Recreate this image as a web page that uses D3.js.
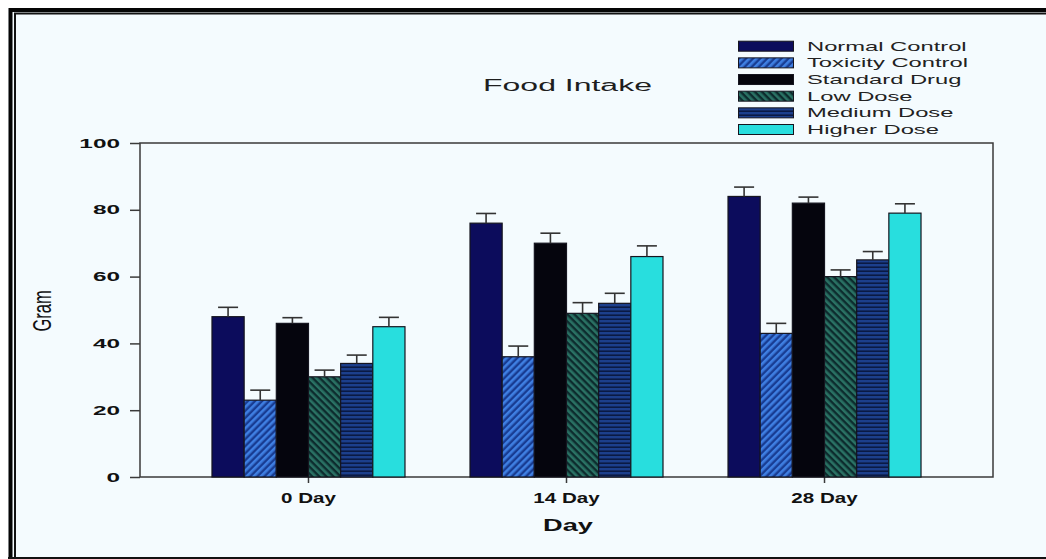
<!DOCTYPE html>
<html>
<head>
<meta charset="utf-8">
<script src="https://cdn.jsdelivr.net/npm/d3@7"></script>
<style>
  html, body { margin: 0; padding: 0; background: #ffffff; }
  svg { display: block; }
  text { font-family: "Liberation Sans", Arial, Helvetica, sans-serif; }
</style>
</head>
<body>
<svg id="chart" width="1046" height="559"></svg>
<script>
// Food intake (g) per group on day 0, 14 and 28, mean with upward error bar
const days = ["0 Day", "14 Day", "28 Day"];
const groups = ["Normal Control", "Toxicity Control", "Standard Drug", "Low Dose", "Medium Dose", "Higher Dose"];

const meanNormal   = [48, 76, 84];
const meanToxicity = [23, 36, 43];
const meanStandard = [46, 70, 82];
const meanLow      = [30, 49, 60];
const meanMedium   = [34, 52, 65];
const meanHigher   = [45, 66, 79];

const errNormal   = [2.8, 2.9, 2.8];
const errToxicity = [3.0, 3.2, 3.0];
const errStandard = [1.7, 3.0, 1.8];
const errLow      = [2.0, 3.2, 2.0];
const errMedium   = [2.5, 3.0, 2.5];
const errHigher   = [2.8, 3.2, 2.8];

const yTicks = [0, 20, 40, 60, 80, 100];

const means = [meanNormal, meanToxicity, meanStandard, meanLow, meanMedium, meanHigher];
const errs  = [errNormal, errToxicity, errStandard, errLow, errMedium, errHigher];
const fills = ["#0c0c5c", "url(#hatchTox)", "#05050d", "url(#hatchLow)", "url(#hatchMed)", "#28dede"];

const rows = [];
days.forEach((d, i) => groups.forEach((g, j) => rows.push({ day: d, group: g, value: means[j][i], err: errs[j][i], fill: fills[j] })));

const svg = d3.select("#chart");

// patterns for the hatched series
const defs = svg.append("defs");
const tox = defs.append("pattern").attr("id", "hatchTox").attr("patternUnits", "userSpaceOnUse")
  .attr("width", 5).attr("height", 5).attr("patternTransform", "rotate(45)");
tox.append("rect").attr("width", 5).attr("height", 5).attr("fill", "#183c92");
tox.append("rect").attr("width", 2.6).attr("height", 5).attr("fill", "#3f7fe2");

const low = defs.append("pattern").attr("id", "hatchLow").attr("patternUnits", "userSpaceOnUse")
  .attr("width", 5).attr("height", 5).attr("patternTransform", "rotate(-45)");
low.append("rect").attr("width", 5).attr("height", 5).attr("fill", "#0d2c2e");
low.append("rect").attr("width", 2.6).attr("height", 5).attr("fill", "#2a7264");

const med = defs.append("pattern").attr("id", "hatchMed").attr("patternUnits", "userSpaceOnUse")
  .attr("width", 4).attr("height", 4);
med.append("rect").attr("width", 4).attr("height", 4).attr("fill", "#1c3f8c");
med.append("rect").attr("y", 2.4).attr("width", 4).attr("height", 1.6).attr("fill", "#0a1a44");

// page background and double frame
svg.append("rect").attr("x", 8).attr("y", 9).attr("width", 1046).attr("height", 550).attr("fill", "#f4fbfe");
svg.append("path").attr("d", "M10.5,559 V10 H1046").attr("fill", "none").attr("stroke", "#050505").attr("stroke-width", 4);
svg.append("path").attr("d", "M15,559 V13.5 H1046").attr("fill", "none").attr("stroke", "#111").attr("stroke-width", 2);
svg.append("line").attr("x1", 8).attr("x2", 1046).attr("y1", 558).attr("y2", 558).attr("stroke", "#111").attr("stroke-width", 2);

// stretched text helper
function stext(x, y, str, size, sx, opts = {}) {
  return svg.append("text")
    .attr("transform", `translate(${x},${y}) scale(${sx},1)`)
    .attr("text-anchor", opts.anchor || "start")
    .attr("font-size", size)
    .attr("font-weight", opts.weight || "normal")
    .attr("fill", opts.fill || "#1e1e1e")
    .text(str);
}

const plot = { left: 140, right: 993, top: 143, bottom: 477 };

const x0 = d3.scaleBand().domain(days).range([plot.left, plot.right]).paddingInner(0.252).paddingOuter(0.279);
const x1 = d3.scaleBand().domain(groups).range([0, x0.bandwidth()]);
const y = d3.scaleLinear().domain([0, 100]).range([plot.bottom, plot.top]);

// plot frame
svg.append("rect").attr("x", plot.left).attr("y", plot.top)
  .attr("width", plot.right - plot.left).attr("height", plot.bottom - plot.top)
  .attr("fill", "none").attr("stroke", "#3a3a3a").attr("stroke-width", 1.5);

// y axis ticks and labels
const yAxis = svg.append("g").attr("transform", `translate(${plot.left},0)`)
  .call(d3.axisLeft(y).tickValues(yTicks).tickSize(10).tickFormat(""));
yAxis.select(".domain").remove();
yAxis.selectAll("line").attr("stroke", "#3a3a3a").attr("stroke-width", 1.5);
yTicks.forEach(t => stext(120, y(t) + 4.6, d3.format("d")(t), 12.5, 1.95, { anchor: "end", weight: "bold", fill: "#111" }));

// x axis ticks and labels
const xAxis = svg.append("g").attr("transform", `translate(0,${plot.bottom})`)
  .call(d3.axisBottom(x0).tickSize(6).tickFormat(""));
xAxis.select(".domain").remove();
xAxis.selectAll("line").attr("stroke", "#3a3a3a").attr("stroke-width", 1.5);
days.forEach(d => stext(x0(d) + x0.bandwidth() / 2, 503, d, 14.5, 1.42, { anchor: "middle", weight: "bold", fill: "#111" }));

// axis titles and chart title
stext(568, 531, "Day", 17, 1.6, { anchor: "middle", weight: "bold", fill: "#111" });
svg.append("text")
  .attr("transform", `translate(50.5,311) scale(1.6,1) rotate(-90)`)
  .attr("text-anchor", "middle").attr("font-size", 16.5).attr("fill", "#111").text("Gram");
stext(567.5, 91, "Food Intake", 16, 2.0, { anchor: "middle" });

// bars
const bars = svg.append("g");
bars.selectAll("rect").data(rows).join("rect")
  .attr("x", d => x0(d.day) + x1(d.group))
  .attr("y", d => y(d.value))
  .attr("width", x1.bandwidth())
  .attr("height", d => y(0) - y(d.value))
  .attr("fill", d => d.fill)
  .attr("stroke", "#15151f").attr("stroke-width", 1.2);

// upward error bars
const eb = svg.append("g").attr("stroke", "#333").attr("stroke-width", 1.6);
rows.forEach(d => {
  const cx = x0(d.day) + x1(d.group) + x1.bandwidth() / 2;
  eb.append("line").attr("x1", cx).attr("x2", cx).attr("y1", y(d.value)).attr("y2", y(d.value + d.err));
  eb.append("line").attr("x1", cx - 10).attr("x2", cx + 10).attr("y1", y(d.value + d.err)).attr("y2", y(d.value + d.err));
});

// legend
const legend = svg.append("g");
groups.forEach((g, j) => {
  const cy = 46.2 + j * 16.66;
  legend.append("rect").attr("x", 738.5).attr("y", cy - 5).attr("width", 55).attr("height", 10)
    .attr("fill", fills[j]).attr("stroke", "#15151f").attr("stroke-width", 1);
  stext(807, cy + 4.6, g, 12.5, 1.9, { fill: "#222" });
});
</script>
</body>
</html>
